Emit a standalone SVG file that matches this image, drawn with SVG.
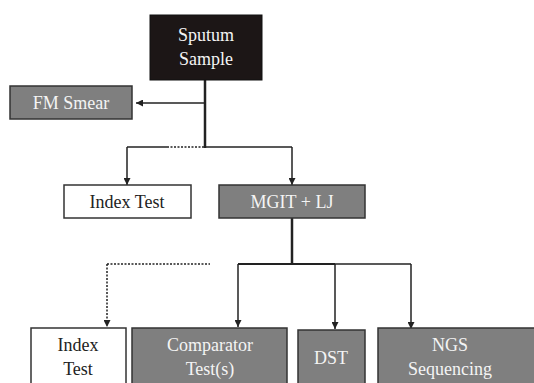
<svg xmlns="http://www.w3.org/2000/svg" width="534" height="383" viewBox="0 0 534 383">
<defs>
<style>
.g{fill:#7f7f7f;stroke:#333;stroke-width:1.5}
.w{fill:#fff;stroke:#333;stroke-width:1.5}
.k{fill:#1c1616;stroke:#111;stroke-width:1}
.tw{font-family:"Liberation Serif",serif;font-size:18px;fill:#f4f4f4;text-anchor:middle}
.tb{font-family:"Liberation Serif",serif;font-size:18px;fill:#222;text-anchor:middle}
.c{fill:none;stroke:#222;stroke-width:1.5}
.d{fill:none;stroke:#222;stroke-width:1.5;stroke-dasharray:2 1.5}
</style>
<marker id="ah" viewBox="0 0 10 10" refX="10" refY="5" markerWidth="7" markerHeight="7" orient="auto" markerUnits="userSpaceOnUse">
<path d="M0,0 L10,5 L0,10 z" fill="#222"/>
</marker>
</defs>
<rect width="534" height="383" fill="#fff"/>
<g id="connectors">
<line class="c" x1="205" y1="80" x2="205" y2="148" style="stroke-width:2.5"/>
<line class="c" x1="205" y1="103" x2="136" y2="103" marker-end="url(#ah)"/>
<line class="c" x1="127" y1="147" x2="167" y2="147"/>
<line class="d" x1="167" y1="147" x2="205" y2="147"/>
<line class="c" x1="205" y1="147" x2="292" y2="147"/>
<polyline class="c" points="127,147 127,185" marker-end="url(#ah)"/>
<polyline class="c" points="292,147 292,185" marker-end="url(#ah)"/>
<line class="c" x1="292" y1="218" x2="292" y2="265" style="stroke-width:2.5"/>
<line class="d" x1="107" y1="264" x2="210" y2="264"/>
<line class="c" x1="238" y1="264" x2="335" y2="264" style="stroke-width:2"/>
<line class="c" x1="335" y1="264" x2="411" y2="264"/>
<line class="d" x1="107" y1="264" x2="107" y2="327" marker-end="url(#ah)"/>
<line class="c" x1="238" y1="264" x2="238" y2="327" marker-end="url(#ah)"/>
<line class="c" x1="335" y1="264" x2="335" y2="329" marker-end="url(#ah)"/>
<line class="c" x1="411" y1="264" x2="411" y2="329" marker-end="url(#ah)"/>
</g>
<g id="sputum">
<rect class="k" x="150" y="15" width="112" height="65"/>
<text class="tw" x="206" y="41">Sputum</text>
<text class="tw" x="206" y="65">Sample</text>
</g>
<g id="fm-smear">
<rect class="g" x="10" y="86" width="122" height="33"/>
<text class="tw" x="71" y="109">FM Smear</text>
</g>
<g id="index-test-1">
<rect class="w" x="64" y="185" width="127" height="33"/>
<text class="tb" x="127" y="208">Index Test</text>
</g>
<g id="mgit-lj">
<rect class="g" x="219" y="185" width="146" height="33"/>
<text class="tw" x="292" y="208">MGIT + LJ</text>
</g>
<g id="index-test-2">
<rect class="w" x="31" y="328" width="95" height="60"/>
<text class="tb" x="78" y="351">Index</text>
<text class="tb" x="78" y="375">Test</text>
</g>
<g id="comparator">
<rect class="g" x="132" y="328" width="155" height="60"/>
<text class="tw" x="210" y="351">Comparator</text>
<text class="tw" x="210" y="375">Test(s)</text>
</g>
<g id="dst">
<rect class="g" x="298" y="330" width="67" height="58"/>
<text class="tw" x="331" y="364">DST</text>
</g>
<g id="ngs">
<rect class="g" x="378" y="328" width="160" height="60"/>
<text class="tw" x="450" y="351">NGS</text>
<text class="tw" x="450" y="375">Sequencing</text>
</g>
</svg>
